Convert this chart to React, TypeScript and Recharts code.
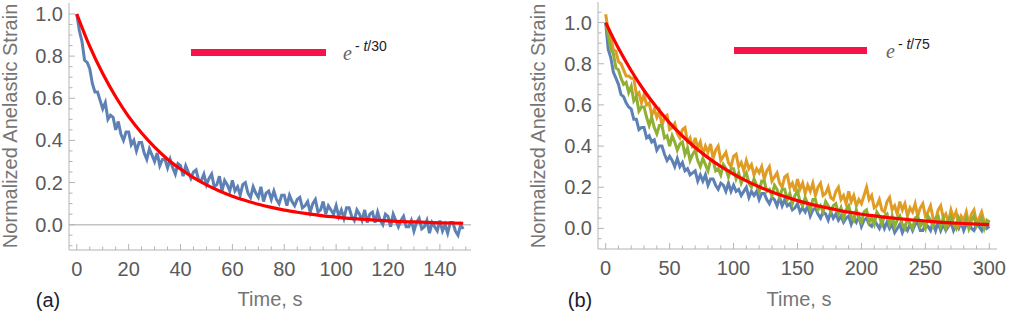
import React from "react";
import { LineChart, Line, XAxis, YAxis, ReferenceLine } from "recharts";

// (a) one run, sampled every second
const A_DT = 1;
const aMeasured = [
  1.0, 0.92, 0.87, 0.78, 0.77, 0.74, 0.67, 0.63, 0.63, 0.59,
  0.55, 0.58, 0.5, 0.52, 0.51, 0.45, 0.49, 0.43, 0.4, 0.44,
  0.44, 0.38, 0.4, 0.35, 0.39, 0.39, 0.34, 0.31, 0.36, 0.33,
  0.3, 0.34, 0.28, 0.31, 0.31, 0.27, 0.31, 0.27, 0.24, 0.29,
  0.28, 0.23, 0.28, 0.25, 0.22, 0.25, 0.26, 0.21, 0.21, 0.24,
  0.19, 0.22, 0.24, 0.18, 0.19, 0.23, 0.16, 0.21, 0.19, 0.16,
  0.21, 0.16, 0.18, 0.14, 0.19, 0.2, 0.15, 0.13, 0.18, 0.15,
  0.13, 0.18, 0.11, 0.15, 0.16, 0.12, 0.16, 0.12, 0.1, 0.14,
  0.14, 0.09, 0.14, 0.11, 0.09, 0.12, 0.13, 0.08, 0.09, 0.11,
  0.06, 0.1, 0.12, 0.06, 0.07, 0.11, 0.05, 0.09, 0.07, 0.05,
  0.09, 0.04, 0.07, 0.03, 0.08, 0.08, 0.04, 0.02, 0.07, 0.05,
  0.02, 0.07, 0.01, 0.05, 0.06, 0.01, 0.06, 0.02, 0.0, 0.05,
  0.04, -0.01, 0.05, 0.02, -0.01, 0.02, 0.04, -0.01, -0.01, 0.02,
  -0.03, 0.01, 0.03, -0.02, -0.01, 0.02, -0.04, 0.01, -0.01, -0.03,
  0.02, -0.03, 0.0, -0.04, 0.01, 0.01, -0.03, -0.05, 0.0, -0.02,
];
const aFitTime = [
  0, 5, 10, 15, 20, 25, 30, 35, 40, 45, 50, 55, 60, 65, 70, 75,
  80, 85, 90, 95, 100, 105, 110, 115, 120, 125, 130, 135, 140, 145, 149,
];
const aFit = [
  1.0, 0.846, 0.717, 0.607, 0.513, 0.435, 0.368, 0.311, 0.264, 0.223, 0.189, 0.16, 0.135, 0.115, 0.097, 0.082,
  0.069, 0.059, 0.05, 0.042, 0.036, 0.03, 0.026, 0.022, 0.018, 0.015, 0.013, 0.011, 0.009, 0.008, 0.007,
];

// (b) three runs, sampled every 2 s
const B_DT = 2;
const bBlue = [
  1.0, 0.87, 0.83, 0.76, 0.73, 0.7, 0.65, 0.64, 0.61, 0.59,
  0.58, 0.53, 0.53, 0.48, 0.49, 0.49, 0.44, 0.45, 0.42, 0.43,
  0.38, 0.4, 0.4, 0.36, 0.33, 0.35, 0.33, 0.3, 0.34, 0.3,
  0.32, 0.28, 0.29, 0.26, 0.27, 0.28, 0.23, 0.26, 0.23, 0.26,
  0.21, 0.24, 0.24, 0.21, 0.19, 0.22, 0.21, 0.18, 0.22, 0.18,
  0.21, 0.18, 0.19, 0.16, 0.18, 0.2, 0.15, 0.18, 0.16, 0.18,
  0.14, 0.17, 0.17, 0.14, 0.12, 0.15, 0.14, 0.11, 0.15, 0.11,
  0.14, 0.11, 0.12, 0.09, 0.1, 0.12, 0.08, 0.1, 0.08, 0.11,
  0.06, 0.09, 0.1, 0.07, 0.05, 0.08, 0.07, 0.04, 0.08, 0.05,
  0.07, 0.04, 0.06, 0.03, 0.05, 0.06, 0.02, 0.05, 0.03, 0.06,
  0.01, 0.04, 0.05, 0.02, 0.01, 0.04, 0.02, 0.0, 0.04, 0.0,
  0.03, 0.0, 0.02, -0.02, 0.0, 0.02, -0.02, 0.01, -0.01, 0.02,
  -0.01, 0.02, 0.03, -0.01, -0.01, 0.02, 0.01, -0.01, 0.03, -0.01,
  0.03, -0.01, 0.02, -0.01, 0.01, 0.03, -0.01, 0.02, 0.0, 0.03,
  -0.01, 0.02, 0.03, 0.0, -0.01, 0.02, 0.01, -0.01, 0.03, 0.0,
  0.01,
];
const bOrange = [
  1.04, 0.96, 0.93, 0.87, 0.86, 0.81, 0.8, 0.77, 0.74, 0.74,
  0.73, 0.73, 0.65, 0.66, 0.61, 0.65, 0.6, 0.61, 0.55, 0.58,
  0.54, 0.57, 0.5, 0.54, 0.55, 0.48, 0.49, 0.51, 0.46, 0.44,
  0.48, 0.49, 0.42, 0.44, 0.39, 0.44, 0.39, 0.42, 0.36, 0.4,
  0.37, 0.41, 0.34, 0.38, 0.4, 0.33, 0.35, 0.37, 0.32, 0.3,
  0.35, 0.36, 0.3, 0.32, 0.28, 0.33, 0.29, 0.31, 0.26, 0.29,
  0.27, 0.3, 0.24, 0.28, 0.3, 0.23, 0.25, 0.27, 0.22, 0.2,
  0.25, 0.26, 0.2, 0.22, 0.18, 0.24, 0.19, 0.22, 0.17, 0.21,
  0.18, 0.22, 0.16, 0.2, 0.22, 0.16, 0.17, 0.2, 0.15, 0.14,
  0.18, 0.2, 0.14, 0.16, 0.12, 0.18, 0.13, 0.16, 0.11, 0.14,
  0.12, 0.16, 0.2, 0.14, 0.16, 0.1, 0.11, 0.14, 0.09, 0.08,
  0.13, 0.15, 0.09, 0.11, 0.07, 0.13, 0.09, 0.12, 0.06, 0.1,
  0.08, 0.12, 0.06, 0.1, 0.12, 0.06, 0.08, 0.11, 0.05, 0.04,
  0.09, 0.11, 0.05, 0.07, 0.03, 0.09, 0.05, 0.08, 0.02, 0.06,
  0.04, 0.08, 0.02, 0.07, 0.09, 0.03, 0.05, 0.08, 0.03, 0.02,
  0.04,
];
const bGreen = [
  1.0, 0.94, 0.87, 0.85, 0.78, 0.77, 0.73, 0.7, 0.71, 0.66,
  0.69, 0.62, 0.64, 0.57, 0.59, 0.59, 0.54, 0.5, 0.54, 0.49,
  0.46, 0.5, 0.5, 0.44, 0.45, 0.4, 0.45, 0.42, 0.38, 0.41,
  0.42, 0.36, 0.39, 0.33, 0.36, 0.38, 0.33, 0.3, 0.34, 0.31,
  0.28, 0.33, 0.33, 0.28, 0.29, 0.26, 0.31, 0.29, 0.25, 0.29,
  0.29, 0.24, 0.27, 0.22, 0.25, 0.27, 0.22, 0.2, 0.24, 0.21,
  0.18, 0.23, 0.23, 0.18, 0.19, 0.16, 0.21, 0.19, 0.15, 0.19,
  0.19, 0.14, 0.17, 0.12, 0.16, 0.18, 0.13, 0.11, 0.15, 0.12,
  0.09, 0.14, 0.14, 0.09, 0.11, 0.08, 0.13, 0.11, 0.08, 0.11,
  0.12, 0.07, 0.1, 0.05, 0.09, 0.11, 0.06, 0.04, 0.09, 0.05,
  0.03, 0.08, 0.09, 0.03, 0.05, 0.02, 0.08, 0.06, 0.02, 0.06,
  0.07, 0.02, 0.06, 0.01, 0.04, 0.06, 0.02, 0.0, 0.05, 0.02,
  0.0, 0.05, 0.06, 0.01, 0.03, 0.0, 0.06, 0.04, 0.01, 0.05,
  0.06, 0.01, 0.05, 0.0, 0.04, 0.06, 0.02, 0.0, 0.05, 0.02,
  0.02, 0.05, 0.0, 0.04, 0.06, 0.01, 0.03, 0.05, 0.0, 0.04,
  0.03,
];
const bFitTime = [
  0, 10, 20, 30, 40, 50, 60, 70, 80, 90, 100, 110, 120, 130, 140, 150,
  160, 170, 180, 190, 200, 210, 220, 230, 240, 250, 260, 270, 280, 290, 300,
];
const bFit = [
  1.0, 0.875, 0.766, 0.67, 0.587, 0.513, 0.449, 0.393, 0.344, 0.301, 0.264, 0.231, 0.202, 0.177, 0.155, 0.135,
  0.118, 0.104, 0.091, 0.079, 0.069, 0.061, 0.053, 0.047, 0.041, 0.036, 0.031, 0.027, 0.024, 0.021, 0.018,
];

const aXMajor = [0, 20, 40, 60, 80, 100, 120, 140];
const bXMajor = [0, 50, 100, 150, 200, 250, 300];
const yMajor = [0, 0.2, 0.4, 0.6, 0.8, 1.0];

const BLUE = "#5e81b5";
const ORANGE = "#e19c24";
const GREEN = "#8fb032";
const FIT = "#ff0000";
const KEY = "#f7134a";
const FRAME = "#b4b4b4";
const TICK_TEXT = "#5a5a5a";
const LABEL = "#757575";
const FONT = '"Liberation Sans", Arial, sans-serif';

const range = (a: number, b: number, step: number) => {
  const out: number[] = [];
  for (let v = a; v <= b + 1e-9; v += step) out.push(Math.round(v * 1000) / 1000);
  return out;
};

const rows = (vals: number[], dt: number) => vals.map((v, i) => ({ t: i * dt, v }));
const rowsAt = (times: number[], vals: number[]) => times.map((t, i) => ({ t, v: vals[i] }));

type Side = "bottom" | "top" | "left" | "right";

// Mathematica-style frame ticks: pointing inward, labels only on bottom/left majors
function frameTick(side: Side, majors: number[], fmt?: (v: number) => string) {
  return (props: any) => {
    const { x, y, payload } = props;
    const v = payload.value as number;
    const major = majors.some((m) => Math.abs(m - v) < 1e-6);
    const len = major ? 6 : 3.5;
    let x2 = x;
    let y2 = y;
    if (side === "bottom") y2 = y - len;
    if (side === "top") y2 = y + len;
    if (side === "left") x2 = x + len;
    if (side === "right") x2 = x - len;
    let label = null;
    if (major && fmt) {
      label =
        side === "left" ? (
          <text x={x - 6} y={y + 7} textAnchor="end" fill={TICK_TEXT} fontSize={20} fontFamily={FONT}>
            {fmt(v)}
          </text>
        ) : (
          <text x={x} y={y + 26} textAnchor="middle" fill={TICK_TEXT} fontSize={20} fontFamily={FONT}>
            {fmt(v)}
          </text>
        );
    }
    return (
      <g>
        <line x1={x} y1={y} x2={x2} y2={y2} stroke={FRAME} strokeWidth={1} />
        {label}
      </g>
    );
  };
}

const axisCommon = {
  type: "number" as const,
  allowDataOverflow: true,
  tickSize: 0,
  tickMargin: 0,
  tickLine: false,
  interval: 0 as const,
  axisLine: { stroke: FRAME, strokeWidth: 1 },
};

function Panel(props: {
  width: number;
  margin: { top: number; right: number; bottom: number; left: number };
  yAxisWidth: number;
  xAxisHeight: number;
  xDomain: [number, number];
  yDomain: [number, number];
  xTicks: number[];
  xMajor: number[];
  yTicks: number[];
  zeroLine?: boolean;
  children: React.ReactNode;
}) {
  const { width, margin, yAxisWidth, xAxisHeight, xDomain, yDomain, xTicks, xMajor, yTicks } = props;
  return (
    <LineChart width={width} height={316} margin={margin}>
      <XAxis
        {...axisCommon}
        dataKey="t"
        domain={xDomain}
        ticks={xTicks}
        height={xAxisHeight}
        tick={frameTick("bottom", xMajor, (v) => String(v))}
      />
      <XAxis
        {...axisCommon}
        xAxisId="top"
        orientation="top"
        dataKey="t"
        domain={xDomain}
        ticks={xTicks}
        height={0}
        tick={frameTick("top", xMajor)}
      />
      <YAxis
        {...axisCommon}
        domain={yDomain}
        ticks={yTicks}
        width={yAxisWidth}
        tick={frameTick("left", yMajor, (v) => v.toFixed(1))}
      />
      <YAxis
        {...axisCommon}
        yAxisId="right"
        orientation="right"
        domain={yDomain}
        ticks={yTicks}
        width={0}
        tick={frameTick("right", yMajor)}
      />
      {props.zeroLine && <ReferenceLine y={0} stroke="#c4c4c4" strokeWidth={1.5} />}
      {props.children}
    </LineChart>
  );
}

const abs = (left: number, top: number): React.CSSProperties => ({ position: "absolute", left, top });

function Key({ x1, x2, y, tx, tau }: { x1: number; x2: number; y: number; tx: number; tau: string }) {
  return (
    <>
      <div style={{ ...abs(x1, y - 3.5), width: x2 - x1, height: 7, background: KEY }} />
      <div style={{ ...abs(tx, y - 18), whiteSpace: "nowrap", lineHeight: 1 }}>
        <span style={{ fontFamily: '"Liberation Serif", serif', fontStyle: "italic", fontSize: 20, color: "#666", position: "relative", top: 9 }}>
          e
        </span>
        <span style={{ fontFamily: FONT, fontSize: 14, color: "#222", marginLeft: 3 }}>
          -&nbsp;<i>t</i>/{tau}
        </span>
      </div>
    </>
  );
}

const textStyle = (size: number, color: string): React.CSSProperties => ({
  fontFamily: FONT,
  fontSize: size,
  color,
  whiteSpace: "nowrap",
  lineHeight: 1,
});

export default function App() {
  const aXTicks = range(0, 150, 5);
  const bXTicks = range(0, 300, 10);
  const aYTicks = range(-0.1, 1.0, 0.05);
  const bYTicks = range(-0.05, 1.05, 0.05);

  return (
    <div style={{ position: "absolute", left: 0, top: 0, width: 1009, height: 316, background: "#fff", overflow: "hidden" }}>
      <div style={abs(0, 0)}>
        <Panel
          width={500}
          margin={{ top: 3, right: 29, bottom: 0, left: 0 }}
          yAxisWidth={69}
          xAxisHeight={66}
          xDomain={[-3, 152]}
          yDomain={[-0.12, 1.052]}
          xTicks={aXTicks}
          xMajor={aXMajor}
          yTicks={aYTicks}
          zeroLine
        >
          <Line data={rows(aMeasured, A_DT)} dataKey="v" stroke={BLUE} strokeWidth={3} dot={false} type="linear" isAnimationActive={false} />
          <Line data={rowsAt(aFitTime, aFit)} dataKey="v" stroke={FIT} strokeWidth={3.2} dot={false} type="monotone" isAnimationActive={false} />
        </Panel>
      </div>
      <div style={abs(500, 0)}>
        <Panel
          width={509}
          margin={{ top: 2, right: 12, bottom: 0, left: 0 }}
          yAxisWidth={98}
          xAxisHeight={67}
          xDomain={[-6, 306]}
          yDomain={[-0.1, 1.1]}
          xTicks={bXTicks}
          xMajor={bXMajor}
          yTicks={bYTicks}
        >
          <Line data={rows(bBlue, B_DT)} dataKey="v" stroke={BLUE} strokeWidth={3} dot={false} type="linear" isAnimationActive={false} />
          <Line data={rows(bOrange, B_DT)} dataKey="v" stroke={ORANGE} strokeWidth={3} dot={false} type="linear" isAnimationActive={false} />
          <Line data={rows(bGreen, B_DT)} dataKey="v" stroke={GREEN} strokeWidth={3} dot={false} type="linear" isAnimationActive={false} />
          <Line data={rowsAt(bFitTime, bFit)} dataKey="v" stroke={FIT} strokeWidth={3.2} dot={false} type="monotone" isAnimationActive={false} />
        </Panel>
      </div>

      <Key x1={191} x2={326} y={52} tx={343} tau="30" />
      <Key x1={734} x2={867} y={50} tx={886} tau="75" />

      <div style={{ ...abs(10, 126), ...textStyle(20, LABEL), transform: "translate(-50%, -50%) rotate(-90deg)" }}>
        Normalized Anelastic Strain
      </div>
      <div style={{ ...abs(538, 126), ...textStyle(20, LABEL), transform: "translate(-50%, -50%) rotate(-90deg)" }}>
        Normalized Anelastic Strain
      </div>
      <div style={{ ...abs(270, 299), ...textStyle(20, LABEL), transform: "translate(-50%, -50%)" }}>Time, s</div>
      <div style={{ ...abs(799, 299), ...textStyle(20, LABEL), transform: "translate(-50%, -50%)" }}>Time, s</div>
      <div style={{ ...abs(48, 300), ...textStyle(20, "#1c1c30"), transform: "translate(-50%, -50%)" }}>(a)</div>
      <div style={{ ...abs(580, 300), ...textStyle(20, "#1c1c30"), transform: "translate(-50%, -50%)" }}>(b)</div>
    </div>
  );
}
